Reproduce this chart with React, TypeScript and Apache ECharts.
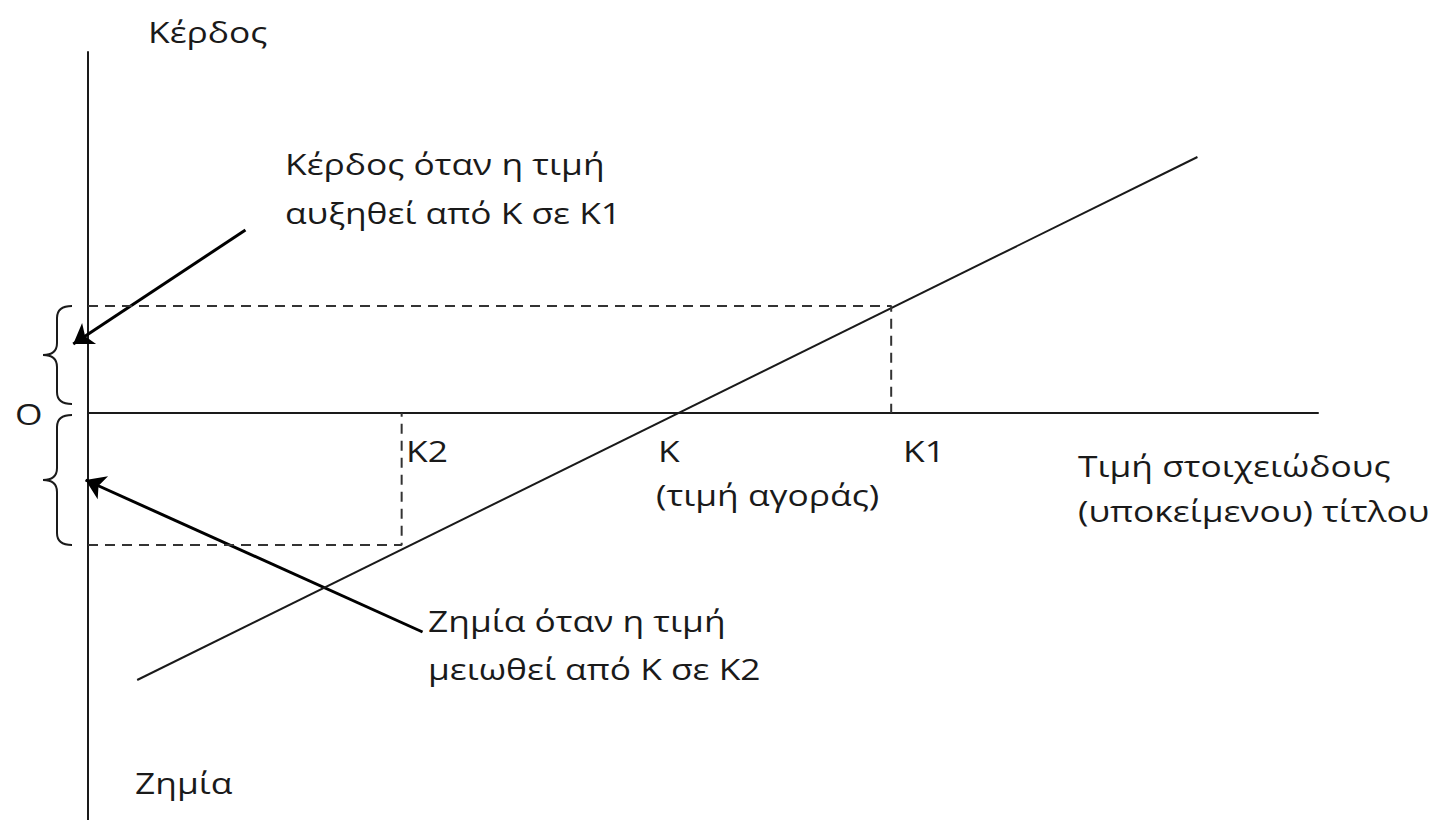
import React, { useEffect, useRef } from "react";
import * as echarts from "echarts";

// Axis ranges (price units on x, profit units on y)
const xRange = [0, 100];
const yRange = [-40.7, 36.1];

// Key prices
const priceK2 = 25.5;
const priceK = 48;
const priceK1 = 65.3;

// Payoff line (long position) end points
const payoffX = [4.0, 90.2];
const payoffY = [-26.7, 25.6];

// Profit / loss at K1 / K2
const profitAtK1 = 10.7;
const lossAtK2 = -13.2;

// Braces [top, bottom] in profit units
const braceTop = [10.7, -0.2];
const braceBottom = [0.9, -13.2];

// Arrows [fromX, fromY, toX, toY]
const arrowFromX = [12.8, 27.2];
const arrowFromY = [18.3, -21.9];
const arrowToX = [-1.2, -0.2];
const arrowToY = [6.9, -6.7];

const FONT = "'Open Sans', 'Noto Sans', sans-serif";
const TXT = "#1a1a1a";

export default function App() {
  const ref = useRef<HTMLDivElement>(null);
  useEffect(() => {
    document.body.style.margin = "0";
    const chart = echarts.init(ref.current!, null, { renderer: "svg" });
    const t = (text: string, x: number, y: number) => ({
      type: "text",
      x,
      y,
      scaleX: 1.22,
      style: { text, fill: TXT, fontSize: 29, fontFamily: FONT, verticalAlign: "middle", align: "left" },
    });
    chart.setOption({
      animation: false,
      grid: { left: 88, right: 119, top: 52, bottom: 0 },
      xAxis: {
        type: "value",
        min: xRange[0],
        max: xRange[1],
        axisLine: { show: true, onZero: true, lineStyle: { color: "#1a1a1a", width: 2 } },
        axisTick: { show: false },
        axisLabel: { show: false },
        splitLine: { show: false },
      },
      yAxis: {
        type: "value",
        min: yRange[0],
        max: yRange[1],
        axisLine: { show: true, onZero: true, lineStyle: { color: "#1a1a1a", width: 2 } },
        axisTick: { show: false },
        axisLabel: { show: false },
        splitLine: { show: false },
      },
      series: [
        {
          type: "line",
          data: [
            [payoffX[0], payoffY[0]],
            [payoffX[1], payoffY[1]],
          ],
          symbol: "none",
          lineStyle: { color: "#1a1a1a", width: 2 },
        },
        {
          type: "line",
          data: [
            [0, profitAtK1],
            [priceK1, profitAtK1],
            [priceK1, 0],
          ],
          symbol: "none",
          lineStyle: { color: "#333", width: 2, type: [10, 7] },
        },
        {
          type: "line",
          data: [
            [0, lossAtK2],
            [priceK2, lossAtK2],
            [priceK2, 0],
          ],
          symbol: "none",
          lineStyle: { color: "#333", width: 2, type: [10, 7] },
        },
        {
          type: "lines",
          coordinateSystem: "cartesian2d",
          clip: false,
          symbol: ["none", "arrow"],
          symbolSize: [15, 19],
          lineStyle: { color: "#000", width: 3, opacity: 1 },
          data: arrowFromX.map((fx, i) => ({
            coords: [
              [fx, arrowFromY[i]],
              [arrowToX[i], arrowToY[i]],
            ],
          })),
        },
        {
          type: "custom",
          clip: false,
          data: braceTop.map((tp, i) => [tp, braceBottom[i]]),
          encode: { y: [0, 1] },
          renderItem: (params: any, api: any) => {
            const p0 = api.coord([0, api.value(0)]);
            const p1 = api.coord([0, api.value(1)]);
            const y0 = p0[1];
            const y1 = p1[1];
            const ym = (y0 + y1) / 2;
            const xe = p0[0] - 16;
            const xv = p0[0] - 31;
            const xc = p0[0] - 45;
            const r = 12;
            const d =
              `M ${xe} ${y0} Q ${xv} ${y0} ${xv} ${y0 + r} L ${xv} ${ym - r} ` +
              `Q ${xv} ${ym} ${xc} ${ym} Q ${xv} ${ym} ${xv} ${ym + r} ` +
              `L ${xv} ${y1 - r} Q ${xv} ${y1} ${xe} ${y1}`;
            return {
              type: "path",
              shape: { pathData: d },
              style: { fill: "none", stroke: "#1a1a1a", lineWidth: 2 },
            };
          },
        },
      ],
      graphic: [
        t("Κέρδος", 148, 31),
        t("Κέρδος όταν η τιμή", 285, 163),
        t("αυξηθεί από Κ σε Κ1", 285, 212),
        t("O", 15, 413),
        t("Κ2", 406, 450),
        t("Κ", 658, 450),
        t("(τιμή αγοράς)", 656, 494),
        t("Κ1", 903, 450),
        t("Τιμή στοιχειώδους", 1078, 465),
        t("(υποκείμενου) τίτλου", 1078, 510),
        t("Ζημία όταν η τιμή", 428, 620),
        t("μειωθεί από Κ σε Κ2", 428, 668),
        t("Ζημία", 135, 782),
      ],
    });
    return () => chart.dispose();
  }, []);
  return (
    <div
      ref={ref}
      style={{ position: "fixed", left: 0, top: 0, width: 1437, height: 820, background: "#fff" }}
    />
  );
}
